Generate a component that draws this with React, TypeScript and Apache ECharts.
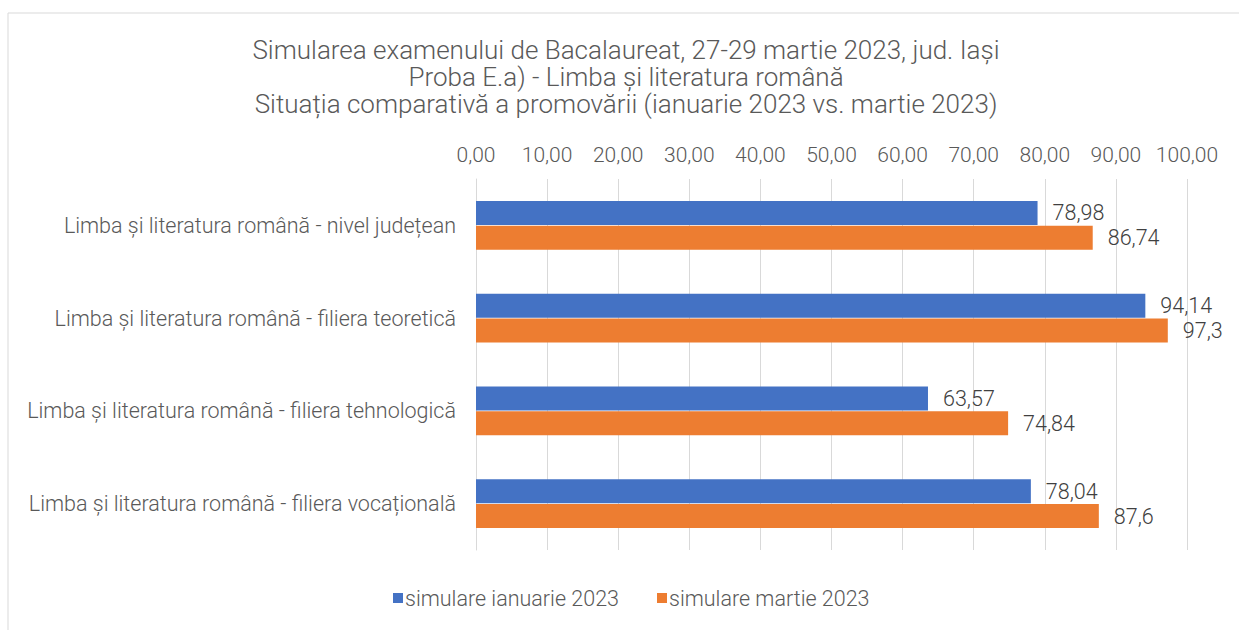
import React, { useEffect, useRef } from "react";
import * as echarts from "echarts";

const categories = [
  "Limba și literatura română - nivel județean",
  "Limba și literatura română - filiera teoretică",
  "Limba și literatura română - filiera tehnologică",
  "Limba și literatura română - filiera vocațională",
];
const seriesNames = ["simulare ianuarie 2023", "simulare martie 2023"];
const ianuarie = [78.98, 94.14, 63.57, 78.04];
const martie = [86.74, 97.3, 74.84, 87.6];
const titleLines = [
  "Simularea examenului de Bacalaureat, 27-29 martie 2023, jud. Iași",
  "Proba E.a) - Limba și literatura română",
  "Situația comparativă a promovării (ianuarie 2023 vs. martie 2023)",
];

const FONT = "Roboto, 'Noto Sans', sans-serif";
const TXT = "#595959";
const W = 300;

export default function App() {
  const ref = useRef<HTMLDivElement>(null);
  useEffect(() => {
    if (!ref.current) return;
    const chart = echarts.init(ref.current, undefined, { renderer: "svg" });
    const label = {
      show: true,
      position: "right",
      distance: 15,
      color: "#404040",
      fontSize: 21.5,
      fontWeight: W,
      fontFamily: FONT,
      formatter: (p: any) => String(p.value).replace(".", ","),
    };
    chart.setOption({
      animation: false,
      textStyle: { fontFamily: FONT },
      graphic: [
        {
          type: "rect",
          shape: { x: 8, y: 13, width: 1300, height: 700 },
          style: { fill: "none", stroke: "#d9d9d9", lineWidth: 1 },
          silent: true,
        },
      ],
      title: titleLines.map((t, i) => ({
        text: t,
        left: 626,
        textAlign: "center",
        top: 37 + i * 27,
        padding: 0,
        textStyle: {
          fontFamily: FONT,
          fontSize: 26,
          fontWeight: W,
          color: TXT,
          lineHeight: 26,
        },
      })),
      legend: {
        data: seriesNames,
        bottom: 16,
        left: 388,
        icon: "rect",
        itemWidth: 10,
        itemHeight: 10,
        itemGap: 38,
        textStyle: { fontFamily: FONT, fontSize: 21.5, fontWeight: W, color: TXT, padding: [0, 0, 0, -3] },
      },
      grid: { left: 476, right: 52, top: 179, bottom: 80, containLabel: false },
      xAxis: {
        type: "value",
        position: "top",
        min: 0,
        max: 100,
        interval: 10,
        axisLine: { show: false },
        axisTick: { show: false },
        splitLine: { show: true, lineStyle: { color: "#d9d9d9", width: 1 } },
        axisLabel: {
          color: TXT,
          fontSize: 21,
          fontWeight: W,
          fontFamily: FONT,
          margin: 14,
          formatter: (v: number) => v.toFixed(2).replace(".", ","),
        },
      },
      yAxis: {
        type: "category",
        data: categories,
        inverse: true,
        axisLine: { show: true, lineStyle: { color: "#d9d9d9" } },
        axisTick: { show: false },
        axisLabel: { color: TXT, fontSize: 21.5, fontWeight: W, fontFamily: FONT, margin: 20 },
      },
      series: [
        {
          name: seriesNames[0],
          type: "bar",
          data: ianuarie,
          itemStyle: { color: "#4472c4" },
          barWidth: 24,
          barGap: "4%",
          label,
        },
        {
          name: seriesNames[1],
          type: "bar",
          data: martie,
          itemStyle: { color: "#ed7d31" },
          barWidth: 24,
          label,
        },
      ],
    });
    return () => chart.dispose();
  }, []);
  return (
    <div
      ref={ref}
      style={{ position: "fixed", left: 0, top: 0, width: 1239, height: 630, background: "#fff" }}
    />
  );
}
